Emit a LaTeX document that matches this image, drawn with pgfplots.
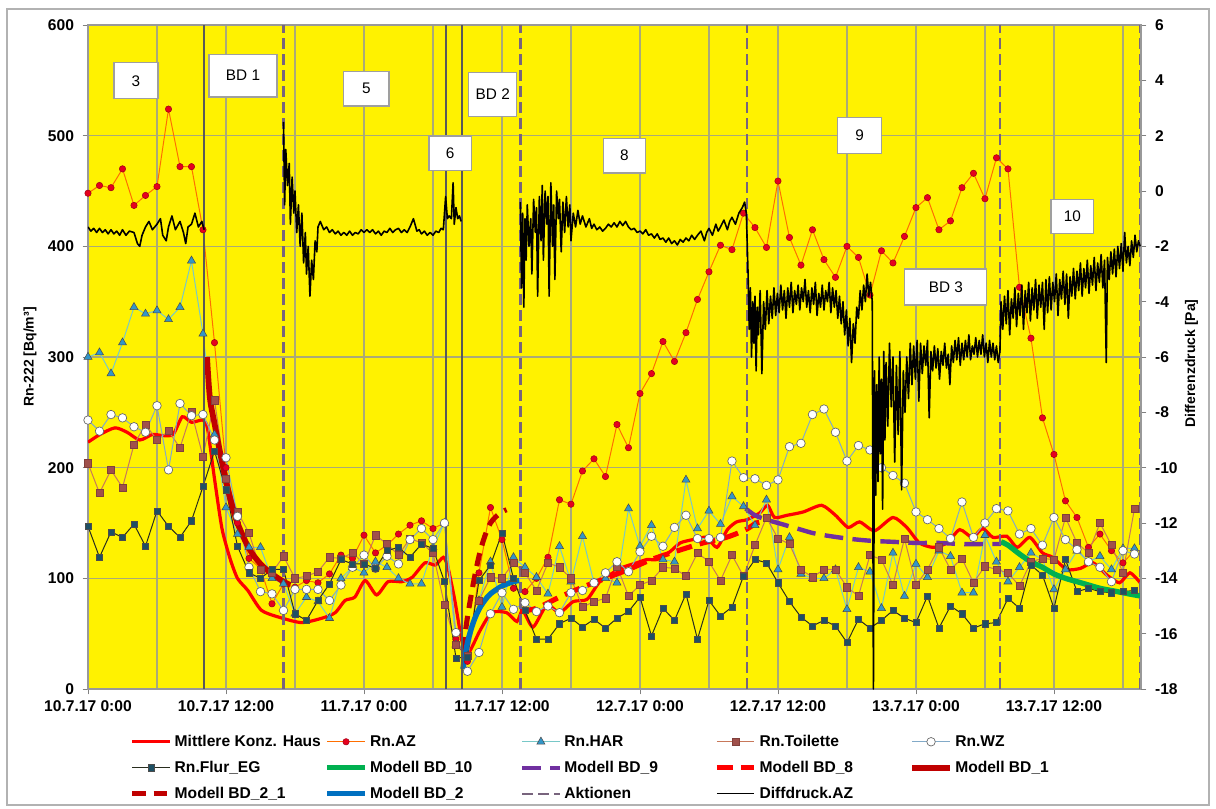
\documentclass[border=0pt]{standalone}
\usepackage{fontspec}
\setmainfont{Liberation Sans}
\usepackage{pgfplots}
\pgfplotsset{compat=1.18}
\definecolor{azline}{RGB}{255,110,0}
\definecolor{azmark}{RGB}{230,0,30}
\definecolor{harline}{RGB}{120,200,200}
\definecolor{harmark}{RGB}{50,150,200}
\definecolor{toiline}{RGB}{200,120,90}
\definecolor{toimark}{RGB}{160,80,75}
\definecolor{wzline}{RGB}{130,170,200}
\definecolor{flurline}{RGB}{40,45,30}
\definecolor{flurmark}{RGB}{30,80,100}
\definecolor{bdgreen}{RGB}{0,176,80}
\definecolor{bdpurple}{RGB}{112,48,160}
\definecolor{bddark}{RGB}{192,0,0}
\definecolor{bdblue}{RGB}{0,112,192}
\definecolor{aktion}{RGB}{120,100,125}
\definecolor{gridc}{RGB}{170,170,120}
\tikzset{
  sAZ/.style={azline, line width=0.75pt, mark=*, mark size=2.4pt, mark options={fill=azmark, draw=azmark!70!black, line width=0.4pt}},
  sHAR/.style={harline, line width=0.75pt, mark=triangle*, mark size=3.5pt, mark options={fill=harmark, draw=black!70, line width=0.4pt}},
  sTOI/.style={toiline, line width=0.75pt, mark=square*, mark size=2.7pt, mark options={fill=toimark, draw=toimark!80!black, line width=0.4pt}},
  sWZ/.style={wzline, line width=0.75pt, mark=*, mark size=3.2pt, mark options={fill=white, draw=black!60, line width=0.5pt}},
  sFLUR/.style={flurline, line width=0.75pt, mark=square*, mark size=2.3pt, mark options={fill=flurmark, draw=black!70, line width=0.4pt}},
  sMIT/.style={red, line width=2.4pt, no marks},
  sB10/.style={bdgreen, line width=4pt, no marks},
  sB9/.style={bdpurple, line width=3.3pt, dash pattern=on 14pt off 7pt, no marks},
  sB8/.style={red, line width=3.8pt, dash pattern=on 12pt off 6pt, no marks},
  sB1/.style={bddark, line width=4.3pt, no marks},
  sB21/.style={bddark, line width=3.8pt, dash pattern=on 10pt off 6pt, no marks},
  sB2/.style={bdblue, line width=4pt, no marks},
  sAKT/.style={aktion, line width=1.7pt, dash pattern=on 8pt off 4pt, no marks},
  sAKTs/.style={black!65, line width=1.5pt, no marks},
  sDIFF/.style={black, line width=1.2pt, no marks, line join=round},
  lbox/.style={draw=gray!75, line width=0.9pt, fill=white, font=\fontsize{11.5}{13}\selectfont, inner sep=1pt}
}
\newcommand{\lt}[1]{\makebox[110.5pt][l]{#1}}
\begin{document}
\begin{tikzpicture}
\useasboundingbox (-66pt,-89.25pt) rectangle (846pt,516.75pt);
\fill[white] (-66pt,-89.25pt) rectangle (846pt,516.75pt);
\draw[gray!60, line width=0.9pt] (-60.75pt,-87pt) rectangle (840.75pt,510pt);
\begin{axis}[
  at={(0pt,0pt)}, anchor=south west,
  scale only axis, width=789.75pt, height=498pt,
  xmin=0, xmax=91.57, ymin=0, ymax=600,
  axis background/.style={fill=yellow},
  xtick={0,12,...,84},
  xticklabels={10.7.17 0:00,10.7.17 12:00,11.7.17 0:00,11.7.17 12:00,12.7.17 0:00,12.7.17 12:00,13.7.17 0:00,13.7.17 12:00},
  minor xtick={6,18,...,90},
  ytick={0,100,...,600},
  grid=both,
  major grid style={gridc, line width=0.9pt},
  minor grid style={gridc, line width=0.9pt},
  xtick pos=left, ytick pos=left,
  tick align=outside,
  major tick length=4pt, minor tick length=0pt,
  tick style={gray, line width=0.6pt},
  axis line style={gray!80, line width=0.8pt},
  tick label style={font=\bfseries\fontsize{11.7}{13}\selectfont},
  yticklabel style={xshift=-3pt},
  xticklabel style={yshift=-1pt},
  /pgf/number format/assume math mode=true,
  ylabel={Rn-222 [Bq/m³]},
  ylabel style={font=\bfseries\fontsize{10.5}{12}\selectfont, at={(axis description cs:-0.055,0.5)}, anchor=center},
  legend columns=5,
  legend cell align=left,
  legend image code/.code={\draw[mark repeat=2,mark phase=2,#1] plot coordinates {(0pt,0pt) (14pt,0pt) (28pt,0pt)};},
  legend style={at={(axis description cs:0.0355,-0.061)}, anchor=north west, draw=none, fill=none,
    font=\bfseries\fontsize{11.7}{13}\selectfont, row sep=5.5pt,
    /tikz/every even column/.append style={column sep=0pt}},
]
\addlegendimage{sMIT}\addlegendentry{\lt{Mittlere Konz. Haus}}
\addlegendimage{sAZ}\addlegendentry{\lt{Rn.AZ}}
\addlegendimage{sHAR}\addlegendentry{\lt{Rn.HAR}}
\addlegendimage{sTOI}\addlegendentry{\lt{Rn.Toilette}}
\addlegendimage{sWZ}\addlegendentry{\lt{Rn.WZ}}
\addlegendimage{sFLUR}\addlegendentry{\lt{Rn.Flur\_EG}}
\addlegendimage{sB10}\addlegendentry{\lt{Modell BD\_10}}
\addlegendimage{sB9}\addlegendentry{\lt{Modell BD\_9}}
\addlegendimage{sB8}\addlegendentry{\lt{Modell BD\_8}}
\addlegendimage{sB1}\addlegendentry{\lt{Modell BD\_1}}
\addlegendimage{sB21}\addlegendentry{\lt{Modell BD\_2\_1}}
\addlegendimage{sB2}\addlegendentry{\lt{Modell BD\_2}}
\addlegendimage{sAKT}\addlegendentry{\lt{Aktionen}}
\addlegendimage{black, line width=0.8pt}\addlegendentry{\lt{Diffdruck.AZ}}

% Mittlere Konz. Haus
\addplot[sMIT, smooth, tension=0.4, forget plot] coordinates {
(0,223) (1.04,230) (2.35,236) (3.4,232) (4.5,225) (5.6,230) (6.5,229) (7.4,230) (8.2,246) (9.0,241) (10.0,243)
(10.4,235) (11.0,190) (11.65,145) (12.35,118) (13.0,100) (13.9,89) (15.1,71) (16.9,64) (18.6,60) (20.35,64)
(21.5,69) (22.35,80) (23.2,83) (24.1,98) (25.1,85) (26.1,97) (27.3,97) (28.2,101) (29.3,114) (30.2,112)
(30.9,119) (31.3,110) (31.9,80) (32.5,44) (33.0,31) (34.1,53) (35.1,69) (36.4,69) (37.3,61) (37.8,71)
(38.7,56) (39.9,76) (41.0,69) (42.2,79) (43.4,81) (44.5,97) (45.65,105) (46.5,110) (47.7,114) (48.6,117)
(49.5,117) (50.6,124) (51.5,132) (52.6,135) (53.8,137) (54.7,128) (55.6,144) (56.4,151) (57.3,153) (58.4,159)
(59.1,166) (59.7,155) (60.8,157) (62.2,160) (63.8,166) (65.0,157) (66.1,146) (67.1,151) (68.4,143) (70.0,155)
(71.2,146) (72.3,132) (73.5,128) (74.7,132) (75.8,144) (76.9,137) (77.8,145) (78.7,137) (79.9,138) (80.8,128)
(81.9,137) (83.0,123) (83.9,119) (85.1,108) (86.3,109) (87.4,114) (88.6,103) (89.7,96) (90.6,105) (91.5,96)};

% Rn.AZ
\addplot[sAZ, forget plot] table {
0 448
1 455
2 453
3 470
4 437
5 446
6 454
7 524
8 472
9 472
10 415
11 313
12 200
13 150
14 118
15 109
16 77
17 95
18 92
19 98
20 96
21 104
22 121
23 118
24 139
25 123
26 130
27 140
28 148
29 152
30 145
31 150
32 45
33 25
34 105
35 164
36 135
37 91
38 88
39 100
40 119
41 171
42 167
43 197
44 208
45 192
46 239
47 218
48 267
49 285
50 314
51 296
52 322
53 352
54 377
55 401
56 397
57 430
58 417
59 399
60 459
61 408
62 383
63 415
64 388
65 372
66 400
67 390
68 356
69 396
70 385
71 409
72 435
73 444
74 415
75 423
76 453
77 466
78 443
79 480
80 470
81 363
82 317
83 245
84 212
85 170
86 155
87 128
88 140
89 125
90 114
91 125
};

% Rn.HAR
\addplot[sHAR, forget plot] table {
0 300
1 304
2 285
3 313
4 345
5 339
6 342
7 334
8 345
9 387
10 321
11 230
12 164
13 140
14 128
15 128
16 100
17 95
18 68
19 83
20 79
21 64
22 100
23 110
24 105
25 115
26 110
27 100
28 95
29 95
30 128
31 150
32 40
33 30
34 80
35 115
36 74
37 119
38 110
39 101
40 86
41 129
42 97
43 138
44 96
45 100
46 96
47 163
48 129
49 148
50 117
51 115
52 189
53 145
54 161
55 149
56 174
57 165
58 148
59 171
60 108
61 137
62 104
63 100
64 100
65 108
66 72
67 110
68 106
69 73
70 123
71 84
72 113
73 101
74 125
75 120
76 87
77 87
78 139
79 115
80 97
81 110
82 123
83 117
84 90
85 108
86 125
87 115
88 120
89 108
90 127
91 127
};

% Rn.Toilette
\addplot[sTOI, forget plot] table {
0 204
1 177
2 198
3 182
4 221
5 239
6 225
7 233
8 218
9 250
10 210
11 261
12 190
13 160
14 141
15 108
16 105
17 120
18 100
19 102
20 106
21 119
22 118
23 123
24 113
25 139
26 131
27 121
28 136
29 132
30 123
31 76
32 40
33 30
34 80
35 101
36 100
37 114
38 105
39 89
40 114
41 110
42 100
43 74
44 79
45 82
46 111
47 84
48 94
49 98
50 110
51 109
52 102
53 123
54 115
55 98
56 121
57 102
58 130
59 155
60 136
61 131
62 108
63 101
64 108
65 108
66 92
67 84
68 121
69 117
70 94
71 136
72 94
73 108
74 128
75 108
76 118
77 96
78 111
79 108
80 105
81 93
82 115
83 118
84 117
85 155
86 132
87 123
88 150
89 130
90 105
91 163
};

% Rn.WZ
\addplot[sWZ, forget plot] table {
0 243
1 233
2 248
3 245
4 237
5 232
6 256
7 198
8 258
9 247
10 248
11 225
12 209
13 156
14 110
15 88
16 86
17 71
18 90
19 90
20 90
21 80
22 94
23 110
24 121
25 109
26 120
27 113
28 135
29 145
30 135
31 150
32 51
33 16
34 33
35 68
36 87
37 72
38 78
39 70
40 75
41 69
42 87
43 89
44 96
45 105
46 115
47 106
48 124
49 138
50 129
51 146
52 157
53 136
54 136
55 137
56 206
57 191
58 190
59 184
60 189
61 219
62 222
63 248
64 253
65 232
66 206
67 220
68 216
69 200
70 193
71 186
72 160
73 153
74 145
75 136
76 169
77 137
78 150
79 163
80 161
81 140
82 145
83 130
84 155
85 135
86 126
87 115
88 110
89 97
90 125
91 122
};

% Rn.Flur_EG
\addplot[sFLUR, forget plot] table {
0 147
1 119
2 142
3 137
4 149
5 129
6 161
7 147
8 137
9 152
10 183
11 215
12 180
13 129
14 105
15 100
16 108
17 108
18 68
19 62
20 80
21 95
22 117
23 113
24 113
25 109
26 125
27 128
28 119
29 131
30 127
31 97
32 28
33 29
34 98
35 112
36 141
37 100
38 71
39 45
40 45
41 59
42 64
43 56
44 63
45 55
46 64
47 70
48 83
49 48
50 73
51 62
52 86
53 45
54 80
55 66
56 74
57 102
58 117
59 114
60 96
61 79
62 65
63 57
64 62
65 57
66 42
67 63
68 55
69 62
70 71
71 64
72 60
73 84
74 55
75 75
76 68
77 55
78 59
79 60
80 82
81 73
82 112
83 103
84 73
85 117
86 88
87 91
88 88
89 87
90 88
91 89
};

% Modell BD_10
\addplot[sB10, smooth, forget plot] coordinates {
(79.4,133) (80,130) (81,122) (82,115) (83,110) (84,104) (85,100) (86,97) (87,94) (88,91) (89,89) (90,87) (91,85) (91.55,84)};
% Modell BD_9
\addplot[sB9, smooth, forget plot] coordinates {
(57.2,163) (58,157) (59,153) (60,150) (61,147) (62,144) (63,141) (64,139) (66,136) (68,134) (70,133) (72,132) (74,132) (76,131) (78,131) (79.4,131)};
% Modell BD_8
\addplot[sB8, smooth, forget plot] coordinates {
(37.6,70) (39,73) (41,83) (43,92) (45,100) (47,108) (49,117) (51,124) (53.5,132) (55.5,137) (57.2,144) (58.1,150) (58.6,151)};
% Modell BD_1
\addplot[sB1, smooth, forget plot] coordinates {
(10.35,300) (10.6,263) (11,240) (11.5,213) (12,188) (12.5,167) (13,150) (14,127) (15,113) (16,104) (17,97) (17.6,94)};
% Modell BD_2_1
\addplot[sB21, smooth, forget plot] coordinates {
(32.6,35) (33,65) (33.5,95) (34,120) (34.5,138) (35,150) (35.5,156) (36,160) (36.4,162)};
% Modell BD_2
\addplot[sB2, smooth, forget plot] coordinates {
(32.6,18) (33,42) (33.5,60) (34,72) (34.5,80) (35,86) (36,93) (37,97) (37.5,98)};

% Aktionen
\addplot[sAKTs, forget plot] coordinates {(10.1,0) (10.1,600)};
\addplot[sAKT, forget plot] coordinates {(17.0,0) (17.0,600)};
\addplot[sAKTs, forget plot] coordinates {(31.1,0) (31.1,600)};
\addplot[sAKTs, forget plot] coordinates {(32.5,0) (32.5,600)};
\addplot[sAKT, forget plot] coordinates {(37.6,0) (37.6,600)};
\addplot[sAKT, forget plot] coordinates {(57.3,0) (57.3,600)};
\addplot[sAKT, forget plot] coordinates {(79.3,0) (79.3,600)};
\addplot[sAKT, forget plot] coordinates {(91.5,0) (91.5,600)};
\end{axis}

\begin{axis}[
  at={(0pt,0pt)}, anchor=south west,
  scale only axis, width=789.75pt, height=498pt,
  xmin=0, xmax=91.57, ymin=-18, ymax=6,
  axis x line=none, axis y line*=right,
  ytick={-18,-16,...,6},
  tick align=outside,
  major tick length=4pt,
  tick style={gray, line width=0.6pt},
  axis line style={gray!80, line width=0.8pt},
  tick label style={font=\bfseries\fontsize{11.7}{13}\selectfont},
  yticklabel style={xshift=3pt},
  /pgf/number format/assume math mode=true,
  ylabel={Differenzdruck [Pa]},
  ylabel style={font=\bfseries\fontsize{10.5}{12}\selectfont, at={(axis description cs:1.048,0.49)}, anchor=center},
  unbounded coords=jump,
]
\addplot[sDIFF] coordinates {
(0,-1.3) (0.25,-1.45) (0.5,-1.35) (0.75,-1.5) (1,-1.35) (1.25,-1.5) (1.5,-1.4) (1.75,-1.55) (2,-1.4) (2.25,-1.55) (2.5,-1.45) (2.75,-1.6) (3,-1.4) (3.3,-1.6) (3.6,-1.45) (4,-1.5) (4.3,-1.9) (4.5,-2.0) (4.7,-1.6) (5,-1.3) (5.3,-1.1) (5.6,-1.4) (6,-1.2) (6.3,-1.0) (6.5,-1.6) (6.8,-1.8) (7,-1.3) (7.3,-0.9) (7.6,-1.4) (8,-1.1) (8.3,-1.5) (8.5,-1.9) (8.7,-1.3) (9,-1.2) (9.3,-0.8) (9.6,-1.3) (9.9,-1.1) (10.1,-1.4)
(10.2,nan)
(17.0,2.5) (17.1,-0.5) (17.2,1.5) (17.35,0.2) (17.5,1.0) (17.6,-1.2) (17.75,0.5) (17.9,-0.8) (18.0,0.0) (18.15,-1.5) (18.3,-0.5) (18.45,-2.0) (18.6,-0.8) (18.75,-2.6) (18.9,-1.5) (19.0,-3.0) (19.15,-2.0) (19.3,-3.8) (19.45,-2.5) (19.6,-3.2) (19.75,-1.8) (19.9,-2.2) (20.0,-1.3) (20.2,-1.1) (20.5,-1.4) (20.75,-1.3) (21,-1.5) (21.25,-1.4) (21.5,-1.55) (21.75,-1.45) (22,-1.6) (22.25,-1.5) (22.5,-1.6) (22.75,-1.45) (23,-1.6) (23.25,-1.5) (23.5,-1.55) (23.75,-1.4) (24,-1.5) (24.25,-1.4) (24.5,-1.5) (24.75,-1.4) (25,-1.55) (25.25,-1.45) (25.5,-1.6) (25.75,-1.45) (26,-1.5) (26.25,-1.35) (26.5,-1.5) (26.75,-1.4) (27,-1.35) (27.25,-1.5) (27.5,-1.4) (27.75,-1.5) (28,-1.3) (28.3,-1.0) (28.6,-1.45) (28.8,-1.4) (29,-1.55) (29.25,-1.45) (29.5,-1.6) (29.75,-1.5) (30,-1.6) (30.25,-1.45) (30.5,-1.5) (30.7,-1.35) (30.9,-1.4) (31.0,-0.8) (31.1,-0.2) (31.25,-1.0) (31.4,-0.9) (31.6,-1.0) (31.75,0.3) (31.85,-1.2) (32.0,-0.6) (32.15,-1.0) (32.3,-0.9) (32.45,-1.1)
(32.6,nan)
(37.6,-0.4) (37.7,-3.5) (37.8,-0.8) (37.9,-4.2) (38.0,-1.0) (38.1,-2.5) (38.2,-0.5) (38.35,-2.0) (38.5,-1.0) (38.6,-3.0) (38.75,-0.3) (38.9,-1.5) (39.0,-0.6) (39.1,-3.8) (39.25,-0.2) (39.4,-1.8) (39.5,0.2) (39.6,-2.5) (39.75,0.0) (39.9,-1.2) (40.0,-0.2) (40.1,-3.8) (40.25,0.3) (40.4,-2.0) (40.5,-0.5) (40.6,-3.2) (40.75,0.0) (40.9,-1.0) (41.0,-0.3) (41.15,-2.2) (41.3,-0.4) (41.45,-1.5) (41.6,-0.2) (41.75,-1.3) (41.9,-0.5) (42.0,-1.8) (42.2,-0.8) (42.4,-1.3) (42.6,-0.7) (42.8,-1.2) (43.0,-0.9) (43.3,-1.3) (43.6,-1.0) (43.8,-1.35) (44,-1.2) (44.25,-1.4) (44.5,-1.3) (44.75,-1.45) (45,-1.35) (45.25,-1.2) (45.5,-1.3) (45.75,-1.15) (46,-1.3) (46.25,-1.1) (46.5,-1.25) (46.75,-1.1) (47,-1.3) (47.25,-1.4) (47.5,-1.35) (47.75,-1.5) (48,-1.45) (48.25,-1.55) (48.5,-1.4) (48.75,-1.6) (49,-1.55) (49.25,-1.7) (49.5,-1.55) (49.75,-1.75) (50,-1.7) (50.25,-1.85) (50.5,-1.7) (50.75,-1.9) (51,-1.8) (51.25,-1.95) (51.5,-1.75) (51.75,-1.85) (52,-1.7) (52.25,-1.8) (52.5,-1.6) (52.75,-1.75) (53,-1.6) (53.3,-1.45) (53.6,-1.8) (53.8,-1.5) (54,-1.35) (54.3,-1.6) (54.6,-1.2) (54.8,-1.45) (55,-1.3) (55.3,-1.05) (55.6,-1.4) (55.8,-1.1) (56,-0.95) (56.3,-1.2) (56.6,-0.8) (56.9,-0.6) (57.1,-0.4) (57.25,-0.8)
(57.4,-3.0) (57.5,-5.0) (57.6,-3.5) (57.7,-6.0) (57.8,-4.0) (57.9,-5.5) (58.0,-3.8) (58.1,-6.5) (58.2,-4.2) (58.3,-5.2) (58.45,-3.6) (58.6,-6.6) (58.75,-4.0) (58.9,-5.0) (59.05,-3.6) (59.2,-4.8) (59.35,-3.8) (59.5,-4.6) (59.65,-3.5) (59.8,-4.5) (59.95,-3.7) (60.1,-4.4) (60.25,-3.4) (60.4,-4.3) (60.55,-3.6) (60.7,-4.6) (60.85,-3.5) (61.0,-4.2) (61.15,-3.3) (61.3,-4.4) (61.45,-3.6) (61.6,-4.1) (61.75,-3.4) (61.9,-4.3) (62.05,-3.5) (62.2,-4.0) (62.35,-3.2) (62.5,-4.2) (62.65,-3.6) (62.8,-4.4) (62.95,-3.5) (63.1,-4.1) (63.25,-3.3) (63.4,-4.5) (63.55,-3.7) (63.7,-4.2) (63.85,-3.4) (64.0,-4.3) (64.15,-3.6) (64.3,-4.0) (64.45,-3.3) (64.6,-4.4) (64.75,-3.5) (64.9,-4.2) (65.05,-3.6) (65.2,-4.6) (65.35,-3.8) (65.5,-4.8) (65.65,-4.0) (65.8,-5.2) (65.95,-4.3) (66.1,-5.6) (66.25,-4.6) (66.4,-6.2) (66.55,-4.8) (66.7,-5.5) (66.85,-4.2) (67.0,-4.6) (67.15,-3.6) (67.3,-4.3) (67.45,-3.4) (67.6,-4.0) (67.75,-3.0) (67.9,-3.8) (68.05,-3.3) (68.2,-4.0) (68.3,-18)
(68.4,-6.5) (68.5,-11.0) (68.6,-7.0) (68.7,-10.5) (68.8,-6.0) (68.9,-9.5) (69.0,-6.8) (69.1,-11.5) (69.2,-5.8) (69.3,-9.0) (69.4,-6.2) (69.55,-8.5) (69.7,-5.5) (69.85,-7.8) (70.0,-6.0) (70.15,-9.8) (70.3,-6.3) (70.45,-8.8) (70.6,-5.8) (70.75,-10.8) (70.9,-6.5) (71.05,-8.0) (71.2,-6.0) (71.35,-7.5) (71.5,-5.5) (71.65,-7.0) (71.8,-5.6) (71.95,-6.8) (72.1,-5.4) (72.25,-7.6) (72.4,-5.5) (72.55,-6.6) (72.7,-5.6) (72.85,-6.3) (73.0,-5.4) (73.15,-8.2) (73.3,-5.8) (73.45,-6.5) (73.6,-5.6) (73.75,-6.4) (73.9,-5.7) (74.05,-6.8) (74.2,-5.8) (74.35,-6.3) (74.5,-5.5) (74.65,-6.4) (74.8,-5.9) (74.95,-7.0) (75.1,-5.6) (75.25,-6.2) (75.4,-5.4) (75.55,-6.1) (75.7,-5.3) (75.85,-6.3) (76.0,-5.5) (76.15,-6.1) (76.3,-5.4) (76.45,-6.0) (76.6,-5.2) (76.75,-6.1) (76.9,-5.6) (77.05,-5.9) (77.2,-5.3) (77.35,-6.0) (77.5,-5.4) (77.65,-5.9) (77.8,-5.2) (77.95,-6.0) (78.1,-5.5) (78.25,-6.2) (78.4,-5.4) (78.55,-6.0) (78.7,-5.5) (78.85,-6.1) (79.0,-5.6) (79.15,-6.2) (79.3,-5.8)
(79.4,-4.0) (79.55,-5.0) (79.7,-3.8) (79.85,-4.8) (80.0,-3.6) (80.15,-5.2) (80.3,-3.9) (80.45,-4.6) (80.6,-3.5) (80.75,-4.9) (80.9,-3.7) (81.05,-4.5) (81.2,-3.4) (81.35,-5.0) (81.5,-3.6) (81.65,-4.4) (81.8,-3.3) (81.95,-4.7) (82.1,-3.5) (82.25,-4.3) (82.4,-3.2) (82.55,-4.6) (82.7,-3.4) (82.85,-4.2) (83.0,-3.3) (83.15,-5.0) (83.3,-3.2) (83.45,-4.4) (83.6,-3.1) (83.75,-4.3) (83.9,-3.3) (84.05,-4.0) (84.2,-3.0) (84.35,-4.5) (84.5,-3.2) (84.65,-3.9) (84.8,-2.9) (84.95,-4.1) (85.1,-3.0) (85.25,-4.6) (85.4,-3.1) (85.55,-3.8) (85.7,-2.8) (85.85,-3.9) (86.0,-2.9) (86.15,-3.6) (86.3,-2.6) (86.45,-3.8) (86.6,-2.8) (86.75,-3.5) (86.9,-2.5) (87.05,-3.7) (87.2,-2.7) (87.35,-3.4) (87.5,-2.4) (87.65,-3.6) (87.8,-2.6) (87.95,-3.3) (88.1,-2.3) (88.25,-3.5) (88.4,-2.5) (88.55,-6.2) (88.65,-2.4) (88.8,-3.2) (88.95,-2.2) (89.1,-3.0) (89.25,-2.1) (89.4,-3.1) (89.55,-2.0) (89.7,-2.8) (89.85,-1.9) (90.0,-2.9) (90.15,-1.5) (90.3,-2.6) (90.45,-2.0) (90.6,-2.7) (90.75,-1.8) (90.9,-2.4) (91.05,-1.6) (91.2,-2.2) (91.35,-1.8) (91.5,-2.0)
};
% text boxes
\node[lbox, minimum width=33pt, minimum height=27pt] at (axis cs:4.17,3.98) {3};
\node[lbox, minimum width=51pt, minimum height=32pt] at (axis cs:13.48,4.17) {BD 1};
\node[lbox, minimum width=34pt, minimum height=26pt] at (axis cs:24.2,3.70) {5};
\node[lbox, minimum width=32pt, minimum height=26pt] at (axis cs:31.5,1.36) {6};
\node[lbox, minimum width=36pt, minimum height=33pt] at (axis cs:35.2,3.50) {BD 2};
\node[lbox, minimum width=32pt, minimum height=26pt] at (axis cs:46.65,1.28) {8};
\node[lbox, minimum width=33pt, minimum height=27pt] at (axis cs:67.1,2.02) {9};
\node[lbox, minimum width=32pt, minimum height=26pt] at (axis cs:85.6,-0.92) {10};
\node[lbox, minimum width=61.5pt, minimum height=27pt] at (axis cs:74.6,-3.47) {BD 3};
\end{axis}
\end{tikzpicture}
\end{document}
